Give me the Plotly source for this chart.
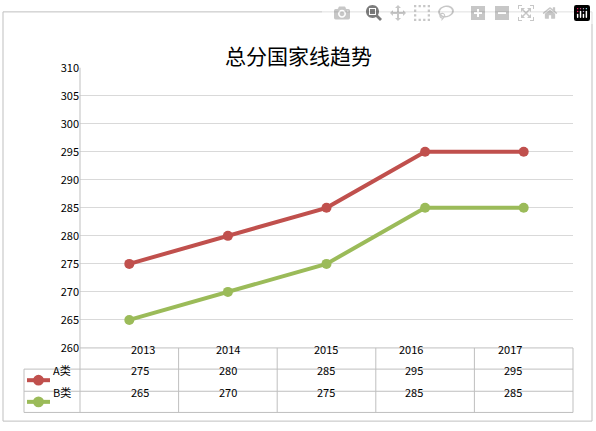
import plotly.graph_objects as go

years = ["2013", "2014", "2015", "2016", "2017"]
series_a = [275, 280, 285, 295, 295]
series_b = [265, 270, 275, 285, 285]
names = ["A类", "B类"]
colors = ["#c0504d", "#9bbb59"]

W, H = 596, 431
def px(x): return x / W
def py(y): return 1 - y / H

x0, x1 = 80, 573          # plot area left/right (px)
top, bottom = 61, 352     # plot area top/bottom (px)
rows = [352, 374, 397, 419]
tleft = 24

fig = go.Figure()
for name, vals, c in zip(names, [series_a, series_b], colors):
    fig.add_trace(go.Scatter(x=list(range(len(years))), y=vals, name=name,
                             mode="lines+markers",
                             line=dict(color=c, width=4),
                             marker=dict(color=c, size=10)))

shapes = [dict(type="rect", xref="paper", yref="paper", x0=px(3), x1=px(592),
               y0=py(428), y1=py(3), line=dict(color="#bfbfbf", width=1))]
grey = dict(color="#bfbfbf", width=1)
# table horizontal lines
for i, r in enumerate(rows):
    shapes.append(dict(type="line", xref="paper", yref="paper",
                       x0=px(x0 if i == 0 else tleft), x1=px(x1),
                       y0=py(r), y1=py(r), line=grey))
# table vertical lines
step = (x1 - x0) / len(years)
for k in range(len(years) + 1):
    xx = x0 + k * step
    shapes.append(dict(type="line", xref="paper", yref="paper", x0=px(xx), x1=px(xx),
                       y0=py(rows[-1]), y1=py(rows[0]), line=grey))
shapes.append(dict(type="line", xref="paper", yref="paper", x0=px(tleft), x1=px(tleft),
                   y0=py(rows[-1]), y1=py(rows[1]), line=grey))
shapes.append(dict(type="line", xref="paper", yref="paper", x0=px(x0), x1=px(x0),
                   y0=py(rows[0]), y1=py(top), line=grey))

annotations = [dict(text="总分国家线趋势", x=0.5, y=py(30), xref="paper", yref="paper",
                    showarrow=False, font=dict(size=21, color="#000"))]
font = dict(size=11, color="#000")
for k, yr in enumerate(years):
    cx = px(x0 + (k + 0.5) * step)
    annotations.append(dict(text=yr, x=cx, y=py((rows[0] + rows[1]) / 2), xref="paper",
                            yref="paper", showarrow=False, font=font))
    for j, vals in enumerate([series_a, series_b]):
        annotations.append(dict(text=str(vals[k]), x=cx, y=py((rows[j + 1] + rows[j + 2]) / 2),
                                xref="paper", yref="paper", showarrow=False, font=font))
for j, (name, c) in enumerate(zip(names, colors)):
    cy = (rows[j + 1] + rows[j + 2]) / 2
    shapes.append(dict(type="line", xref="paper", yref="paper", x0=px(27), x1=px(50),
                       y0=py(cy), y1=py(cy), line=dict(color=c, width=4)))
    shapes.append(dict(type="circle", xref="paper", yref="paper", x0=px(34), x1=px(43),
                       y0=py(cy + 4.5), y1=py(cy - 4.5), fillcolor=c, line=dict(color=c)))
    annotations.append(dict(text=name, x=px(51), y=py(cy), xref="paper", yref="paper",
                            xanchor="left", showarrow=False, font=font))

fig.update_layout(
    width=W, height=H, margin=dict(l=0, r=0, t=0, b=0),
    paper_bgcolor="white", plot_bgcolor="white", showlegend=False,
    font=dict(family="Noto Sans CJK SC, sans-serif"),
    xaxis=dict(domain=[px(x0), px(x1)], range=[-0.5, len(years) - 0.5],
               showticklabels=False, showgrid=False, zeroline=False),
    yaxis=dict(domain=[py(bottom), py(top)], range=[260, 310], dtick=5,
               gridcolor="#d9d9d9", zeroline=False, ticks="",
               tickfont=dict(size=11, color="#000")),
    shapes=shapes, annotations=annotations,
)
fig.write_html("out.html",
               post_script="document.body.style.margin='0';document.body.style.overflow='hidden';")
